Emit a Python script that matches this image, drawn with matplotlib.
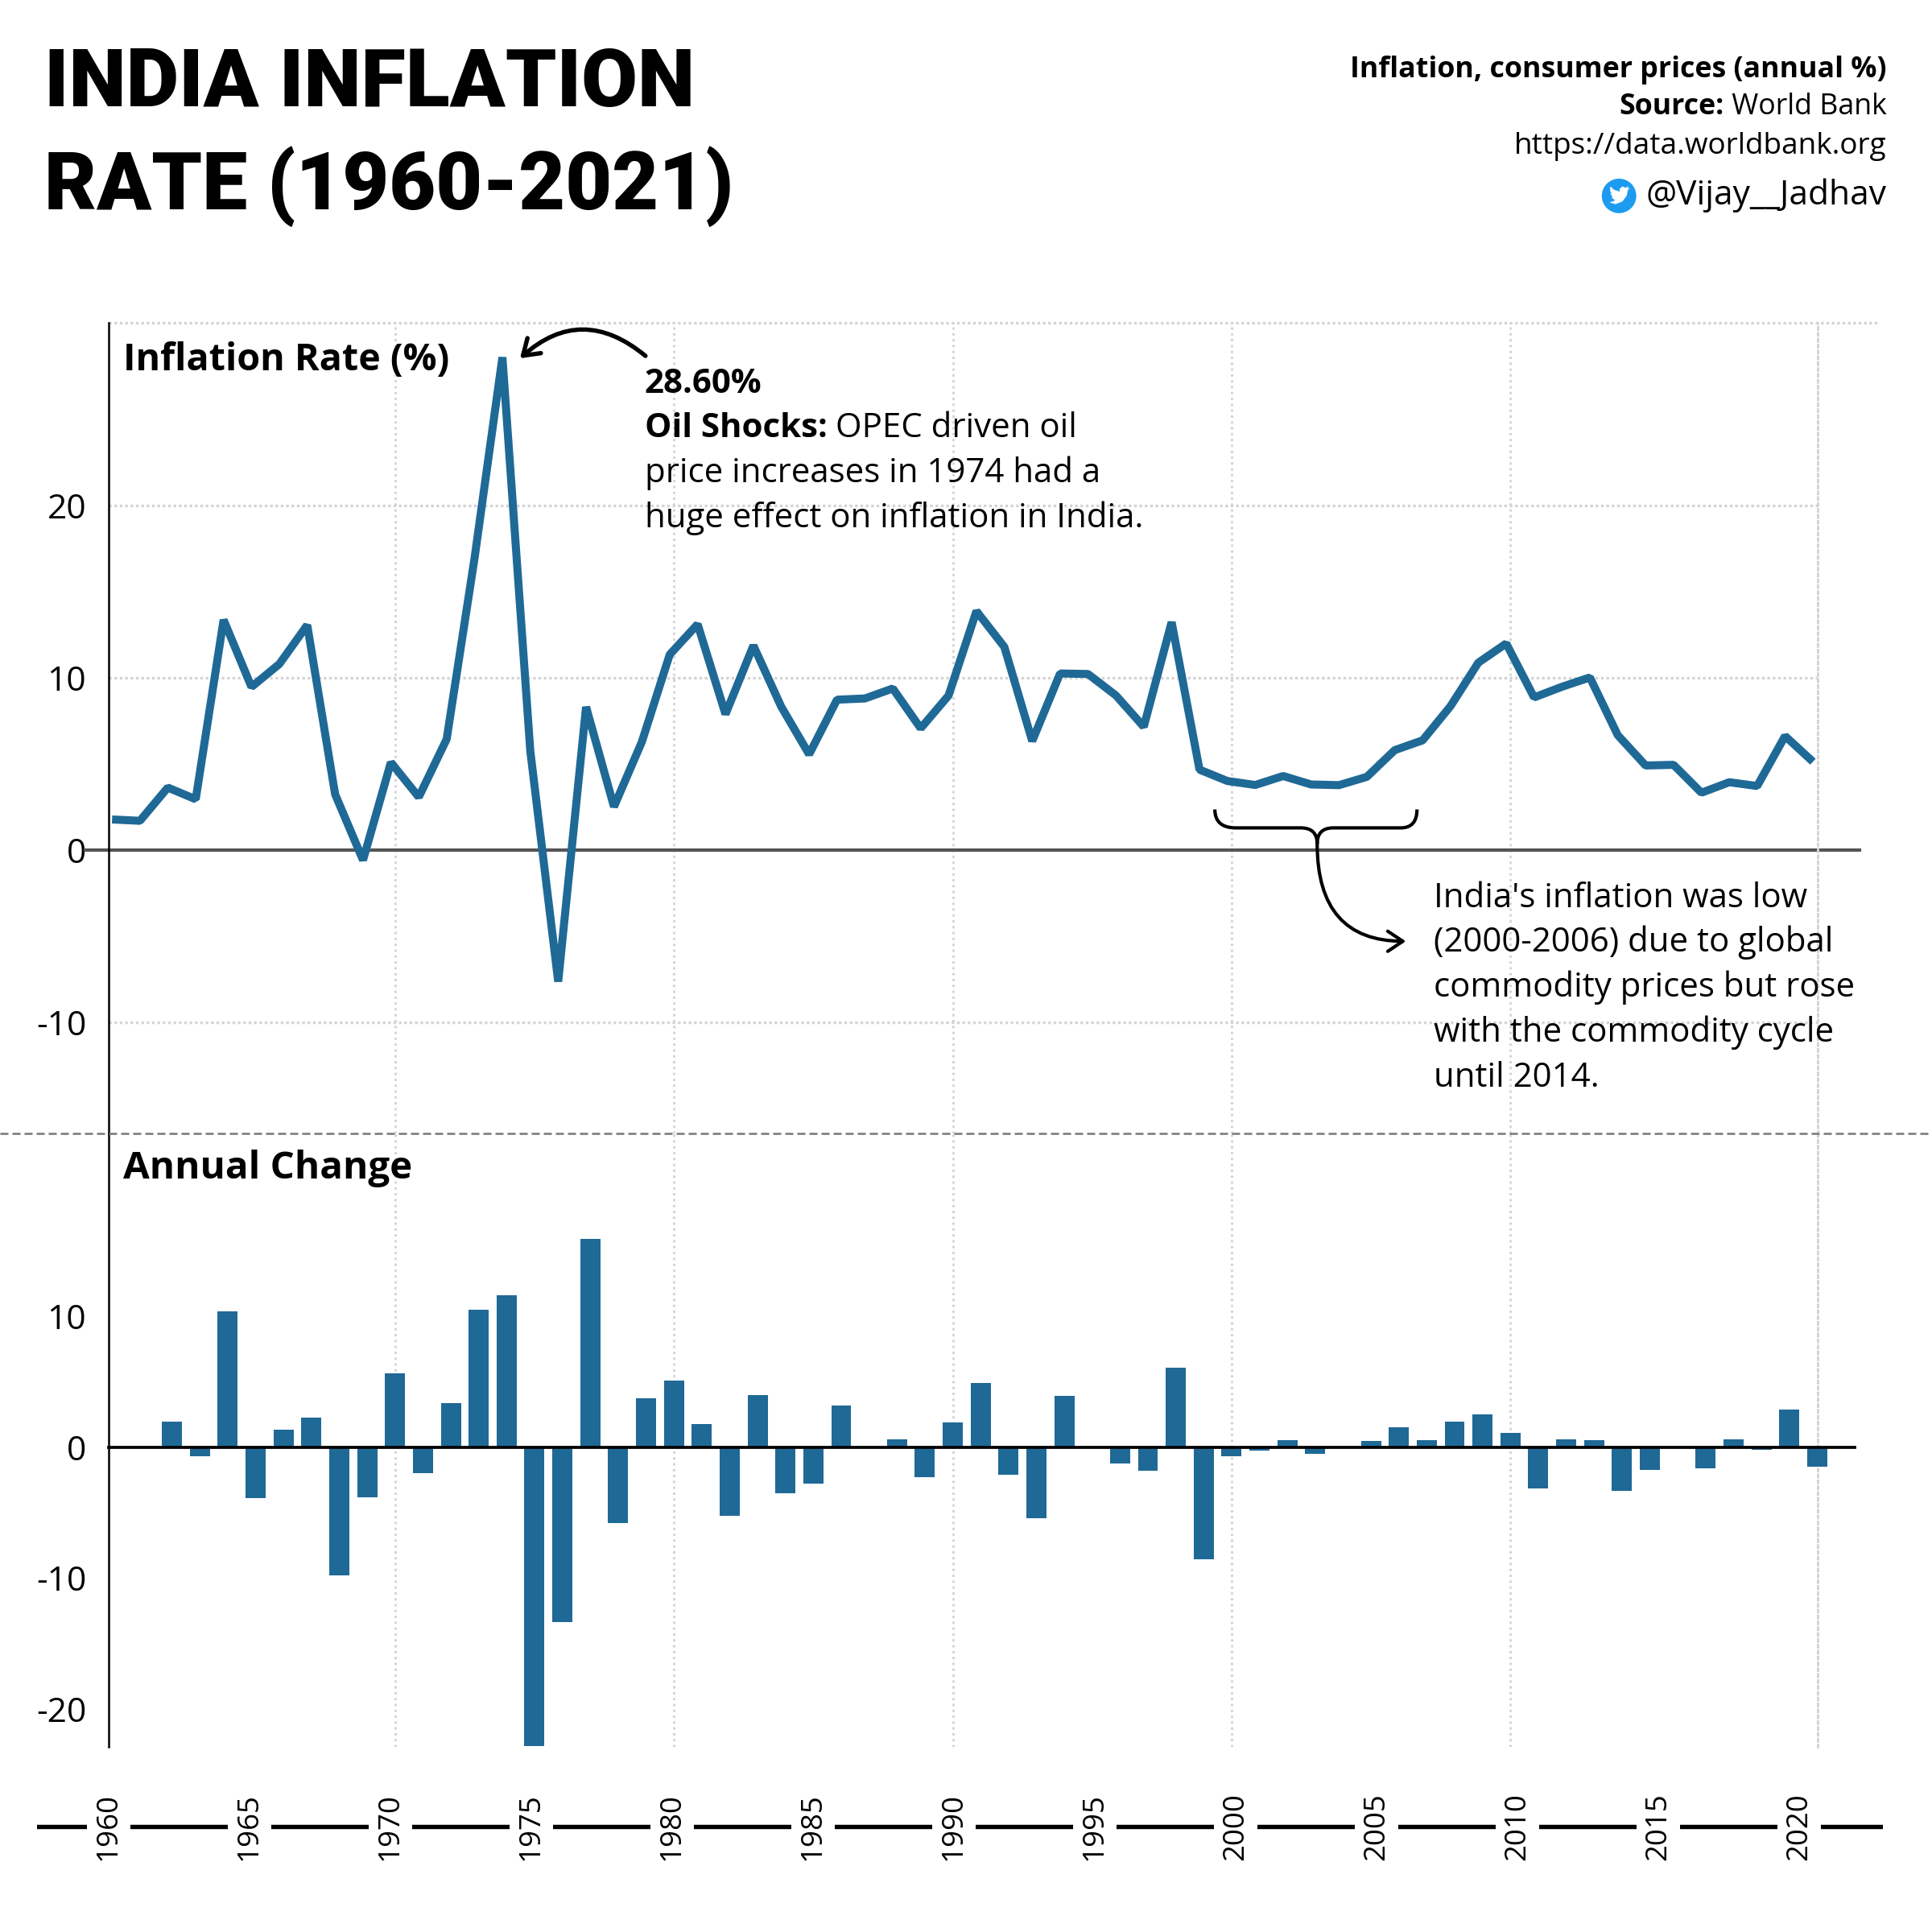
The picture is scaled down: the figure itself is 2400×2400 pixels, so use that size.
import numpy as np
import matplotlib
matplotlib.use('Agg')
import matplotlib.pyplot as plt
from matplotlib.patches import Circle, PathPatch, Polygon
from matplotlib.path import Path

# ---------------- data ----------------
years = list(range(1960, 2022))
inflation = [1.78, 1.70, 3.63, 2.95, 13.36, 9.47, 10.80, 13.06, 3.24, -0.58,
             5.09, 3.08, 6.44, 16.94, 28.60, 5.75, -7.63, 8.31, 2.52, 6.28,
             11.35, 13.11, 7.89, 11.87, 8.32, 5.56, 8.73, 8.80, 9.38, 7.07,
             8.97, 13.87, 11.79, 6.33, 10.25, 10.22, 8.98, 7.16, 13.23, 4.67,
             4.01, 3.78, 4.30, 3.81, 3.77, 4.25, 5.80, 6.37, 8.35, 10.88,
             11.99, 8.86, 9.48, 10.02, 6.67, 4.91, 4.95, 3.33, 3.94, 3.72,
             6.62, 5.13]
annual_change = [0.00, -0.08, 1.93, -0.68, 10.41, -3.89, 1.33, 2.26, -9.82, -3.82,
                 5.67, -2.01, 3.36, 10.50, 11.66, -22.85, -13.38, 15.94, -5.79, 3.76,
                 5.07, 1.76, -5.22, 3.98, -3.55, -2.76, 3.17, 0.07, 0.58, -2.31,
                 1.90, 4.90, -2.08, -5.46, 3.92, -0.03, -1.24, -1.82, 6.07, -8.56,
                 -0.66, -0.23, 0.52, -0.49, -0.04, 0.48, 1.55, 0.57, 1.98, 2.53,
                 1.11, -3.13, 0.62, 0.54, -3.35, -1.76, 0.04, -1.62, 0.61, -0.22,
                 2.90, -1.49]
label_years = list(range(1960, 2021, 5))
grid_years = [1970, 1980, 1990, 2000, 2010]
top_yticks = [-10, 0, 10, 20]
bottom_yticks = [-20, -10, 0, 10]

peak_year, peak_value = 1974, 28.60

# ---------------- style ----------------
plt.rcParams['font.family'] = ['Open Sans', 'DejaVu Sans']
plt.rcParams['axes.unicode_minus'] = False

BLUE = '#1f6996'
GRID = '#d4d4d4'
S = 1568.0


def fx(px):
    return px / S


def fy(py):
    return 1 - py / S


fig = plt.figure(figsize=(8, 8), dpi=300)
fig.patch.set_facecolor('white')

L, R = 88, 1475
X0, X1 = 1959.87, 2021.16
BAR_SHIFT = 0.15

ax1 = fig.add_axes([fx(L), fy(920), (R - L) / S, (920 - 262) / S])
ax2 = fig.add_axes([fx(L), fy(1418), (R - L) / S, (1418 - 920) / S])
ax3 = fig.add_axes([fx(30), fy(1525), (1528 - 30) / S, (1525 - 1440) / S])

for ax in (ax1, ax2):
    ax.set_xlim(X0, X1)
    for s in ('top', 'bottom'):
        ax.spines[s].set_visible(False)
    ax.spines['left'].set_color('black')
    ax.spines['left'].set_linewidth(0.6)
    ax.spines['right'].set_linestyle((0, (1, 1.5)))
    ax.spines['right'].set_color(GRID)
    ax.spines['right'].set_linewidth(0.7)
    ax.set_xticks([g + BAR_SHIFT for g in grid_years])
    ax.set_xticklabels([])
    ax.grid(axis='x', linestyle=(0, (1, 1.5)), color=GRID, linewidth=0.7, zorder=0)
    ax.tick_params(axis='both', length=0, labelsize=10.2, pad=6.6, labelcolor='black')
    ax.set_axisbelow(True)

# ---- top chart ----
ax1.set_ylim(-16.45, 30.6)
ax1.set_yticks(top_yticks)
ax1.set_yticklabels([str(t) for t in top_yticks])
ax1.grid(axis='y', linestyle=(0, (1, 1)), color=GRID, linewidth=0.8, zorder=0)
ax1.plot([0, 1.0353], [1, 1], transform=ax1.transAxes, linestyle=(0, (1, 1)),
         color=GRID, linewidth=0.8, clip_on=False, zorder=0)
ax1.plot([-0.0137, 1.0245], [0, 0], transform=ax1.get_yaxis_transform(),
         color='#555555', linewidth=1.0, clip_on=False, zorder=2)
ax1.plot(years, inflation, color=BLUE, linewidth=2.4, solid_joinstyle='bevel',
         solid_capstyle='butt', zorder=4, clip_on=False)

# ---- bottom chart ----
ax2.set_ylim(-22.95, 24.0)
ax2.set_yticks(bottom_yticks)
ax2.set_yticklabels([str(t) for t in bottom_yticks])
ax2.bar(np.array(years) + BAR_SHIFT, annual_change, width=0.72, color=BLUE,
        zorder=3, clip_on=False)
ax2.plot([0, 1.0216], [0, 0], transform=ax2.get_yaxis_transform(),
         color='black', linewidth=0.9, clip_on=False, zorder=4)

# ---- x label strip ----
ax3.set_xlim(1957.46, 2022.97)
ax3.set_ylim(0, 1)
ax3.axis('off')
ax3.axhline(0.5, color='black', linewidth=1.3, zorder=1)
for yr in label_years:
    ax3.text(yr, 0.5, str(yr), rotation=90, ha='center', va='center',
             fontsize=8.8, color='black', zorder=2,
             bbox=dict(facecolor='white', edgecolor='none', pad=2.2))

# ---- separator ----
fig.add_artist(plt.Line2D([0, 1], [fy(920), fy(920)], transform=fig.transFigure,
                          color='#777777', linewidth=0.6,
                          linestyle=(0, (4, 2))))

# ---- panel titles ----
fig.text(fx(100), fy(300.5), 'Inflation Rate (%)', fontsize=11.2,
         fontweight='bold', va='baseline', ha='left')
fig.text(fx(100), fy(956.5), 'Annual Change', fontsize=11.4,
         fontweight='bold', va='baseline', ha='left')

# ---- main title ----
title_font = ['Roboto', 'DejaVu Sans']
fig.text(fx(36), fy(86), 'INDIA INFLATION', fontsize=24.3, fontweight='black',
         family=title_font, va='baseline', ha='left')
fig.text(fx(36), fy(170), 'RATE (1960-2021)', fontsize=24.0, fontweight='black',
         family=title_font, va='baseline', ha='left')

# ---- meta text ----
fig.text(fx(1531), fy(62.5), 'Inflation, consumer prices (annual %)',
         fontsize=8.6, fontweight='bold', ha='right', va='baseline')
wb = fig.text(fx(1531), fy(93), ' World Bank', fontsize=8.6, ha='right',
              va='baseline')
ax1.annotate('Source:', xy=(0, 0), xycoords=wb, ha='right', va='bottom',
             fontsize=8.6, fontweight='bold', annotation_clip=False)
fig.text(fx(1531), fy(125), 'https://data.worldbank.org', fontsize=8.9,
         ha='right', va='baseline')
fig.text(fx(1531), fy(166), '@Vijay__Jadhav', fontsize=10.2, ha='right',
         va='baseline')
cx, cy, cr = fx(1314), fy(159), 14 / S
fig.add_artist(Circle((cx, cy), cr, transform=fig.transFigure,
                      facecolor='#1d9bf0', edgecolor='none'))
bird = [(-0.55, -0.38), (-0.2, -0.48), (0.2, -0.32), (0.45, 0.02), (0.5, 0.32),
        (0.64, 0.44), (0.5, 0.41), (0.56, 0.56), (0.38, 0.47), (0.2, 0.55),
        (0.04, 0.42), (0.04, 0.25), (-0.3, 0.36), (-0.5, 0.56), (-0.52, 0.3),
        (-0.42, 0.12), (-0.52, 0.16), (-0.36, -0.08), (-0.46, -0.08), (-0.22, -0.26)]
fig.add_artist(Polygon([(cx + bx * cr, cy + by * cr) for bx, by in bird],
                       closed=True, transform=fig.transFigure,
                       facecolor='white', edgecolor='none'))

# ---- peak annotation ----
ax1.annotate('', xy=(1974.63, 28.54), xytext=(1979.13, 28.68),
             arrowprops=dict(arrowstyle='->,head_length=0.45,head_width=0.3',
                             connectionstyle='arc3,rad=0.43', lw=1.3,
                             color='black', shrinkA=0, shrinkB=0),
             annotation_clip=False)
AFS = 10.1
fig.text(fx(523), fy(319), f'{peak_value:.2f}%', fontsize=AFS, fontweight='bold',
         va='baseline', ha='left')
osh = fig.text(fx(523), fy(355), 'Oil Shocks:', fontsize=AFS, fontweight='bold',
               va='baseline', ha='left')
ax1.annotate(' OPEC driven oil', xy=(1, 0), xycoords=osh, ha='left',
             va='bottom', fontsize=AFS, annotation_clip=False)
fig.text(fx(523), fy(391.5), 'price increases in 1974 had a', fontsize=AFS,
         va='baseline', ha='left')
fig.text(fx(523), fy(428), 'huge effect on inflation in India.', fontsize=AFS,
         va='baseline', ha='left')

# ---- brace annotation ----
verts = [(1999.55, 2.36), (1999.55, 1.29), (2000.30, 1.29),
         (2002.64, 1.29),
         (2003.22, 1.29), (2003.22, 0.36),
         (2003.22, 1.29), (2003.79, 1.29),
         (2006.22, 1.29),
         (2006.80, 1.29), (2006.80, 2.36)]
codes = [Path.MOVETO, Path.CURVE3, Path.CURVE3,
         Path.LINETO,
         Path.CURVE3, Path.CURVE3,
         Path.CURVE3, Path.CURVE3,
         Path.LINETO,
         Path.CURVE3, Path.CURVE3]
ax1.add_patch(PathPatch(Path(verts, codes), facecolor='none', edgecolor='black',
                        linewidth=1.0, zorder=5, clip_on=False))
ax1.annotate('', xy=(2006.40, -5.29), xytext=(2003.22, 0.36),
             arrowprops=dict(arrowstyle='->,head_length=0.45,head_width=0.3',
                             connectionstyle='angle3,angleA=-90,angleB=0',
                             lw=1.0, color='black', shrinkA=0, shrinkB=0),
             annotation_clip=False)
note_lines = ["India's inflation was low",
              "(2000-2006) due to global",
              "commodity prices but rose",
              "with the commodity cycle",
              "until 2014."]
for i, line in enumerate(note_lines):
    fig.text(fx(1163.5), fy(736 + i * 36.5), line, fontsize=AFS, va='baseline',
             ha='left')

fig.savefig('out.png', dpi=300, facecolor='white')
